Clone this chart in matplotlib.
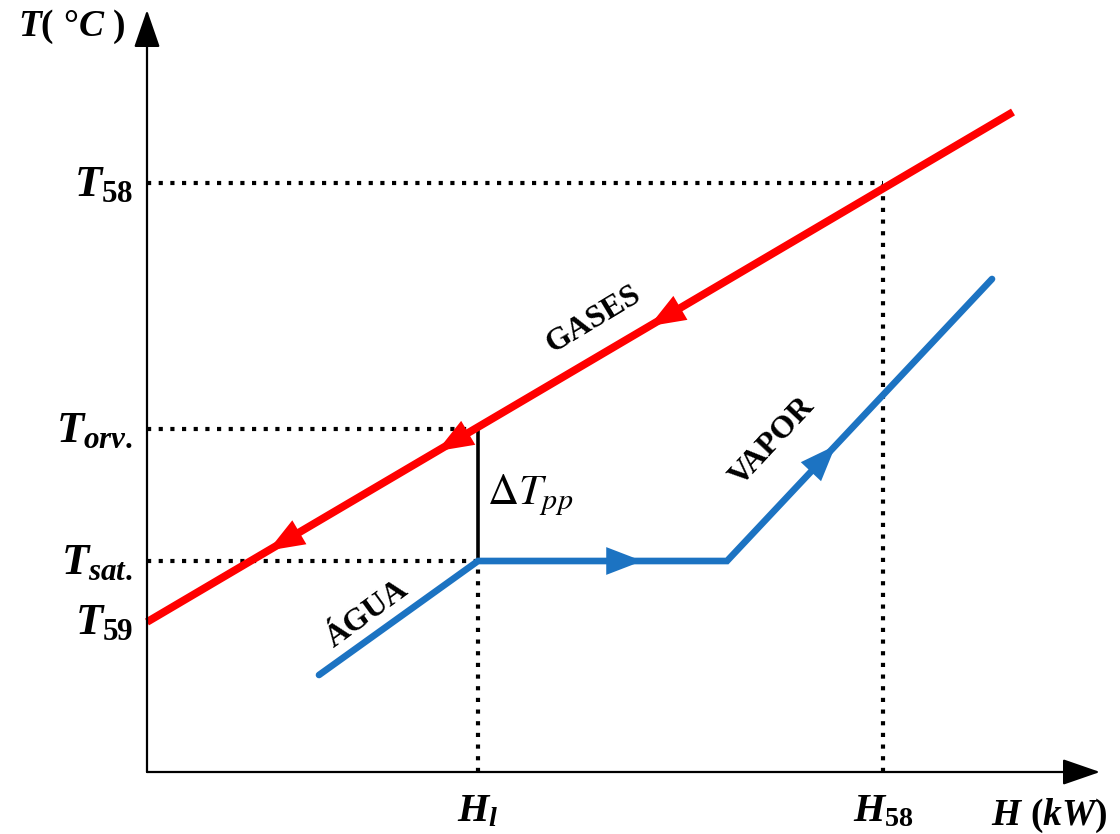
import numpy as np
import matplotlib.pyplot as plt

plt.rcParams['mathtext.fontset'] = 'custom'
plt.rcParams['mathtext.it'] = 'Liberation Serif:italic:bold'
plt.rcParams['mathtext.rm'] = 'Liberation Serif:bold'
plt.rcParams['mathtext.bf'] = 'Liberation Serif:bold'

# schematic units: H along x, T along y (origin at the axes corner)
gas_H = [0, 866]
gas_T = [150, 660]
water_H = [172, 331, 580, 845]
water_T = [97, 211, 211, 493]

H_l = 331
H_58 = 736
T_58 = 589
T_orv = 343
T_sat = 211
T_59 = 150

t_ticks = [T_58, T_orv, T_sat, T_59]
t_labels = [r'$T_{58}$', r'$T_{orv.}$', r'$T_{sat.}$', r'$T_{59}$']
h_ticks = [H_l, H_58]
h_labels = [r'$H_{l}$', r'$H_{58}$']

RED = '#ff0000'
BLUE = '#1c73c2'

fig = plt.figure(figsize=(11.2, 8.34), dpi=100)
ax = fig.add_axes([0, 0, 1, 1])
ax.set_xlim(-147, 973)
ax.set_ylim(-62, 772)
ax.axis('off')

# axes with arrow heads
axis_arrow = dict(arrowstyle='-|>,head_length=1.3,head_width=0.45',
                  mutation_scale=18, color='k', lw=1.6, shrinkA=0, shrinkB=0)
ax.annotate('', xy=(953, 0), xytext=(0, 0), arrowprops=axis_arrow)
ax.annotate('', xy=(0, 762), xytext=(0, 0), arrowprops=axis_arrow)

# guide lines
dots = dict(color='k', lw=3, linestyle=(0, (1, 1.8)))
ax.plot([0, H_58], [T_58, T_58], **dots)
ax.plot([H_58, H_58], [0, T_58], **dots)
ax.plot([0, H_l], [T_orv, T_orv], **dots)
ax.plot([0, H_l], [T_sat, T_sat], **dots)
ax.plot([H_l, H_l], [0, T_sat], **dots)
ax.plot([H_l, H_l], [T_sat, T_orv], color='k', lw=2.6)

# streams
ax.plot(gas_H, gas_T, color=RED, lw=5.6, solid_capstyle='butt')
ax.plot(water_H, water_T, color=BLUE, lw=4.8, solid_joinstyle='miter',
        solid_capstyle='round')


def flow_arrow(x0, y0, x1, y1, frac, color):
    # arrow head placed at a fraction along a segment, pointing x0->x1
    px = x0 + frac * (x1 - x0)
    py = y0 + frac * (y1 - y0)
    d = np.hypot(x1 - x0, y1 - y0)
    ux, uy = (x1 - x0) / d, (y1 - y0) / d
    ax.annotate('', xy=(px, py), xytext=(px - 20 * ux, py - 20 * uy),
                arrowprops=dict(arrowstyle='-|>,head_length=1.3,head_width=0.5',
                                mutation_scale=20, color=color, lw=0,
                                shrinkA=0, shrinkB=0))


# gases flow from hot end to cold end
for f in [0.42, 0.665, 0.86]:
    flow_arrow(gas_H[1], gas_T[1], gas_H[0], gas_T[0], f, RED)
flow_arrow(water_H[1], water_T[1], water_H[2], water_T[2], 0.66, BLUE)
flow_arrow(water_H[2], water_T[2], water_H[3], water_T[3], 0.41, BLUE)

# tick labels
for t, lab in zip(t_ticks, t_labels):
    ax.text(-14, t, lab, fontsize=32, ha='right', va='center')
for h, lab in zip(h_ticks, h_labels):
    ax.text(h, -38, lab, fontsize=29, ha='center', va='center')

ax.text(-75, 745, r'$T(\ °C\ )$', fontsize=27, ha='center', va='center')
ax.text(902, -44, r'$H\ (kW)$', fontsize=27, ha='center', va='center')

# stream names
names = dict(fontsize=23, family='Liberation Serif', weight='bold',
             ha='center', va='center', rotation_mode='anchor')
ax.text(447, 453, 'GASES', rotation=31, **names)
ax.text(626, 330, 'VAPOR', rotation=47, **names)
ax.text(220, 158, 'ÁGUA', rotation=36, **names)
ax.text(340, 277, r'$\Delta T_{pp}$', fontsize=31, math_fontfamily='stix',
        ha='left', va='center')

fig.savefig('out.png', dpi=100)
